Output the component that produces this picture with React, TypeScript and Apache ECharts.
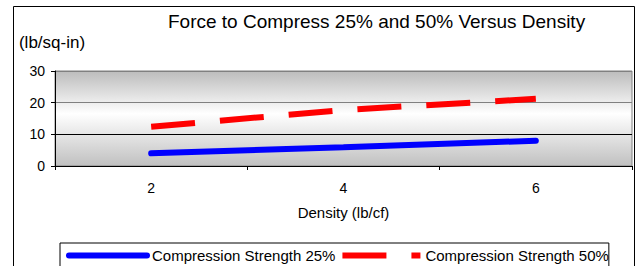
import React, { useEffect, useRef } from 'react';
import * as echarts from 'echarts';

const densities = ['2', '4', '6'];
const compression25 = [4.0, 5.9, 8.0];
const compression50 = [12.4, 17.7, 21.2];
const seriesNames = ['Compression Strength 25%', 'Compression Strength 50%'];
const titleText = 'Force to Compress 25% and 50% Versus Density';
const yAxisTitle = '(lb/sq-in)';
const xAxisTitle = 'Density (lb/cf)';

const FONT = '"Liberation Sans", Arial, Helvetica, sans-serif';

export default function App() {
  const ref = useRef<HTMLDivElement>(null);
  useEffect(() => {
    document.body.style.margin = '0';
    const chart = echarts.init(ref.current!, null, { renderer: 'svg' });
    chart.setOption({
      animation: false,
      backgroundColor: '#ffffff',
      textStyle: { fontFamily: FONT, color: '#000' },
      title: {
        text: titleText,
        left: 168,
        top: 12,
        padding: 0,
        textStyle: { fontSize: 19, fontWeight: 'normal', color: '#000', fontFamily: FONT },
      },
      grid: {
        left: 55,
        right: 4,
        top: 71,
        bottom: 100,
        show: true,
        borderColor: '#808080',
        borderWidth: 1,
        backgroundColor: new echarts.graphic.LinearGradient(0, 0, 0, 1, [
          { offset: 0, color: '#bcbcbc' },
          { offset: 0.45, color: '#ffffff' },
          { offset: 1, color: '#c0c0c0' },
        ]),
      },
      xAxis: {
        type: 'category',
        data: densities,
        boundaryGap: true,
        axisLine: { lineStyle: { color: '#000', width: 1 } },
        axisTick: { show: true, length: 4, lineStyle: { color: '#000' } },
        axisLabel: { fontSize: 14, color: '#000', margin: 15, fontFamily: FONT },
        splitLine: { show: false },
        name: xAxisTitle,
        nameLocation: 'middle',
        nameGap: 39,
        nameTextStyle: { fontSize: 15, color: '#000', fontFamily: FONT },
      },
      yAxis: {
        type: 'value',
        min: 0,
        max: 30,
        interval: 10,
        axisLine: { show: true, lineStyle: { color: '#000' } },
        axisTick: { show: true, length: 4, lineStyle: { color: '#000' } },
        axisLabel: { fontSize: 14, color: '#000', margin: 10, fontFamily: FONT },
        splitLine: { show: true, lineStyle: { color: ['#000', '#000', '#808080', '#808080'], width: 1 } },
        name: yAxisTitle,
        nameLocation: 'end',
        nameGap: 20,
        nameTextStyle: { fontSize: 17, color: '#000', fontFamily: FONT, padding: [0, 6, 0, 0] },
      },
      legend: {
        left: 60,
        top: 243,
        orient: 'horizontal',
        itemWidth: 78,
        itemHeight: 14,
        itemGap: 4,
        borderColor: '#000',
        borderWidth: 1,
        borderRadius: 0,
        padding: [5, 0, 10, 6],
        textStyle: { fontSize: 15, color: '#000', fontFamily: FONT },
        lineStyle: { width: 6 },
        itemStyle: { opacity: 0 },
        data: seriesNames,
      },
      graphic: [
        {
          type: 'rect',
          shape: { x: 13.5, y: 6.5, width: 621, height: 280 },
          style: { fill: 'none', stroke: '#000', lineWidth: 1 },
          silent: true,
          z: 100,
        },
      ],
      series: [
        {
          name: seriesNames[0],
          type: 'line',
          data: compression25,
          symbol: 'none',
          lineStyle: { width: 6, color: '#0000ff', cap: 'round' },
          itemStyle: { color: '#0000ff' },
        },
        {
          name: seriesNames[1],
          type: 'line',
          data: compression50,
          symbol: 'none',
          lineStyle: { width: 6, color: '#ff0000', type: [44, 25], cap: 'butt' },
          itemStyle: { color: '#ff0000' },
        },
      ],
    });
    return () => chart.dispose();
  }, []);
  return <div ref={ref} style={{ position: 'fixed', left: 0, top: 0, width: 636, height: 266 }} />;
}
